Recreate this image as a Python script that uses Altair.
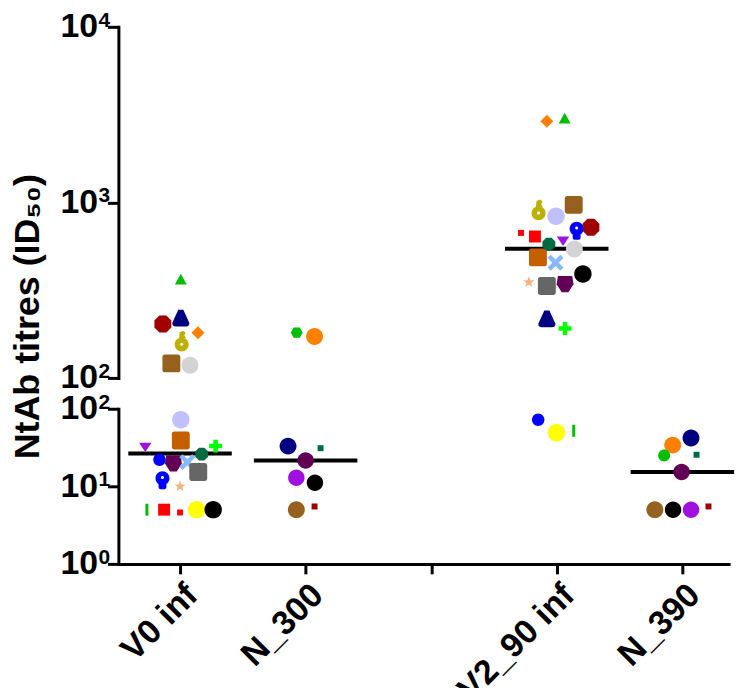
import altair as alt
import pandas as pd

FONT = "Liberation Sans"

# ---------------- categories / axes ----------------
categories = ["V0 inf", "N_300", "V2_90 inf", "N_390"]
category_slots = [0, 1, 3, 4]
x_tick_values = [0, 1, 2, 3, 4]
x_tick_labels = ["V0 inf", "N_300", "", "V2_90 inf", "N_390"]

upper_ticks = [100, 1000, 10000]
upper_exps = ["2", "3", "4"]
lower_ticks = [1, 10, 100]
lower_exps = ["0", "1", "2"]
tick_base = "10"

# ---------------- data ----------------
v_subjects = ["s01", "s02", "s03", "s04", "s05", "s06", "s07", "s08", "s09", "s10",
              "s11", "s12", "s13", "s14", "s15", "s16", "s17", "s18", "s19", "s20",
              "s21", "s22", "s23"]
v0_values = [362, 219, 203, 181, 162, 121, 118, 72, 39, 32, 33, 26, 22, 20, 20.5,
             15.3, 12, 10, 5, 5, 4.6, 5, 5]
v0_jitter = [0.006, 0.006, -0.137, 0.143, 0.013, -0.069, 0.079, 0.006, 0.006, -0.277,
             0.283, 0.172, -0.164, -0.053, 0.058, 0.145, -0.140, 0.0, -0.264, -0.127,
             0.0, 0.132, 0.264]
v2_values = [3000, 217, 722, 2900, 906, 968, 542, 834, 486, 603, 191, 578, 72, 344,
             453, 334, 689, 351, 52, 639, 670, 49, 391]
v2_jitter = [0.063, -0.079, 0.272, -0.079, -0.145, 0.135, 0.140, -0.006, -0.150, 0.050,
             0.066, -0.063, -0.148, 0.066, -0.010, -0.079, 0.158, -0.222, 0.135, -0.174,
             -0.285, -0.002, 0.208]

n300_subjects = ["n_green_hex", "n_orange", "n_navy", "n_dkgreen", "n_dkpurple",
                 "n_violet", "n_black", "n_brown", "n_dkred"]
n300_values = [181, 172, 33, 31, 21.5, 12.9, 11.1, 5, 5.5]
n300_jitter = [-0.071, 0.071, -0.140, 0.119, 0.0, -0.074, 0.074, -0.074, 0.071]

n390_subjects = ["n_navy", "n_orange", "n_green", "n_dkgreen", "n_dkpurple",
                 "n_brown", "n_black", "n_violet", "n_dkred"]
n390_values = [42, 34, 25, 25.5, 15.3, 5, 5, 5, 5.5]
n390_jitter = [0.069, -0.077, -0.145, 0.113, -0.006, -0.219, -0.074, 0.069, 0.208]

medians = [26.5, 21.5, 545, 15.3]

# ---------------- marker styles ----------------
shape_paths = {
    "circle": "M1,0A1,1 0 1,1 -1,0A1,1 0 1,1 1,0Z",
    "square": "M-1,-1H1V1H-1Z",
    "rsquare": "M-0.7,-1H0.7Q1,-1,1,-0.7V0.7Q1,1,0.7,1H-0.7Q-1,1,-1,0.7V-0.7Q-1,-1,-0.7,-1Z",
    "octagon": "M-0.41,-1L0.41,-1L1,-0.41L1,0.41L0.41,1L-0.41,1L-1,0.41L-1,-0.41Z",
    "tri_up": "M0,-1L1,0.8L-1,0.8Z",
    "trap": "M-0.3,-1L0.3,-1L1,0.55Q1.05,1,0.6,1L-0.6,1Q-1.05,1,-1,0.55Z",
    "diamond": "M0,-1L1,0L0,1L-1,0Z",
    "tri_down": "M-1,-0.7L1,-0.7L0,0.8Z",
    "plus": "M-0.35,-1H0.35V-0.35H1V0.35H0.35V1H-0.35V0.35H-1V-0.35H-0.35Z",
    "shield": "M-0.85,-0.9L0.85,-0.9L1,0.05L0.4,1L-0.4,1L-1,0.05Z",
    "xcross": "M-1,-0.6L-0.6,-1L0,-0.4L0.6,-1L1,-0.6L0.4,0L1,0.6L0.6,1L0,0.4L-0.6,1L-1,0.6L-0.4,0Z",
    "star": "M0,-1L0.235,-0.324L0.951,-0.309L0.38,0.124L0.588,0.809L0,0.4L-0.588,0.809L-0.38,0.124L-0.951,-0.309L-0.235,-0.324Z",
    "bar": "M-0.25,-1H0.25V1H-0.25Z",
    "hexagon": "M-0.5,-0.87L0.5,-0.87L1,0L0.5,0.87L-0.5,0.87L-1,0Z",
    "knob_up": ("M0.67,0.33A0.67,0.67 0 1,1 -0.67,0.33A0.67,0.67 0 1,1 0.67,0.33Z"
                "M0.15,0.3A0.15,0.15 0 1,0 -0.15,0.3A0.15,0.15 0 1,0 0.15,0.3Z"
                "M-0.25,-0.3L-0.2,-0.85L0.15,-1L0.38,-0.8L0.25,-0.55L0.4,-0.3Z"),
    "knob_down": ("M0.78,-0.22A0.78,0.78 0 1,1 -0.78,-0.22A0.78,0.78 0 1,1 0.78,-0.22Z"
                  "M0.17,-0.3A0.17,0.17 0 1,0 -0.17,-0.3A0.17,0.17 0 1,0 0.17,-0.3Z"
                  "M-0.44,0.3H0.44V0.8Q0.44,1,0.24,1H-0.24Q-0.44,1,-0.44,0.8Z"),
}

# key: (colour, shape, diameter in px)
marker_style = {
    "s01": ("#00BF00", "tri_up", 12),
    "s02": ("#000080", "trap", 17),
    "s03": ("#A00000", "octagon", 17),
    "s04": ("#FF8000", "diamond", 13),
    "s05": ("#BDB000", "knob_up", 21),
    "s06": ("#96601E", "rsquare", 18),
    "s07": ("#D3D3D3", "circle", 17),
    "s08": ("#C0C0FA", "circle", 17.5),
    "s09": ("#C45F00", "rsquare", 18),
    "s10": ("#A010E0", "tri_down", 12.5),
    "s11": ("#00FF00", "plus", 13),
    "s12": ("#006B40", "octagon", 13),
    "s13": ("#0000FF", "circle", 12.5),
    "s14": ("#610055", "shield", 17),
    "s15": ("#88B8F8", "xcross", 16),
    "s16": ("#666666", "rsquare", 18),
    "s17": ("#0000FF", "knob_down", 18),
    "s18": ("#F4B183", "star", 12),
    "s19": ("#00BF00", "bar", 12),
    "s20": ("#FF0000", "square", 12),
    "s21": ("#FF0000", "square", 6),
    "s22": ("#FFFF00", "circle", 17.5),
    "s23": ("#000000", "circle", 17.5),
    "n_green_hex": ("#00BF00", "hexagon", 12),
    "n_green": ("#00BF00", "circle", 12),
    "n_orange": ("#FF8000", "circle", 17),
    "n_navy": ("#000080", "circle", 17),
    "n_dkgreen": ("#006B40", "square", 6),
    "n_dkpurple": ("#610055", "circle", 16.5),
    "n_violet": ("#A010E0", "circle", 16.5),
    "n_black": ("#000000", "circle", 16.5),
    "n_brown": ("#96601E", "circle", 17),
    "n_dkred": ("#A00000", "square", 6),
}

# ---------------- build tables ----------------
rows = []
for cat, slot, subs, vals, jit in [
    ("V0 inf", 0, v_subjects, v0_values, v0_jitter),
    ("N_300", 1, n300_subjects, n300_values, n300_jitter),
    ("V2_90 inf", 3, v_subjects, v2_values, v2_jitter),
    ("N_390", 4, n390_subjects, n390_values, n390_jitter),
]:
    for s, v, j in zip(subs, vals, jit):
        col, shp, d = marker_style[s]
        rows.append({"group": cat, "marker": s, "value": v, "xpos": slot + j,
                     "color": col, "shape": shape_paths[shp], "size": d * d})
df = pd.DataFrame(rows)

med_df = pd.DataFrame({"group": categories, "slot": category_slots, "median": medians})

x_label_expr = "[" + ",".join("'" + l + "'" for l in x_tick_labels) + "][round(datum.value)]"

xscale = alt.Scale(domain=[-0.491, 4.38], nice=False, zero=False)

axis_common = dict(domainWidth=3, domainColor="black", tickWidth=3, tickColor="black",
                   tickSize=11, labelFont=FONT, labelFontWeight="bold", labelFontSize=34,
                   labelColor="black", labelPadding=10, grid=False, domainCap="square",
                   labelOverlap=False, labelExpr="'" + tick_base + "'")


def panel(filter_expr, ydomain, ticks, exps, yaxis, xaxis, height):
    yscale = alt.Scale(type="log", domain=ydomain, nice=False)
    rule = alt.Chart(med_df).transform_filter(filter_expr.replace("value", "median")).transform_calculate(
        x1="datum.slot - 0.412", x2="datum.slot + 0.412"
    ).mark_rule(color="black", strokeWidth=4).encode(
        x=alt.X("x1:Q", scale=xscale, axis=xaxis),
        x2="x2:Q",
        y=alt.Y("median:Q", scale=yscale, axis=yaxis),
    )
    pts = alt.Chart(df).transform_filter(filter_expr).mark_point(
        filled=True, opacity=1, strokeWidth=0
    ).encode(
        x=alt.X("xpos:Q", scale=xscale, axis=xaxis),
        y=alt.Y("value:Q", scale=yscale, axis=yaxis),
        color=alt.Color("color:N", scale=None),
        shape=alt.Shape("shape:N", scale=None),
        size=alt.Size("size:Q", scale=None),
    )
    exp_df = pd.DataFrame({"tick": ticks, "exp": exps})
    sup = alt.Chart(exp_df).mark_text(
        font=FONT, fontWeight="bold", fontSize=21, align="left", baseline="top",
        dy=-17, color="black", clip=False
    ).encode(
        x=alt.value(-20),
        y=alt.Y("tick:Q", scale=yscale, axis=yaxis),
        text="exp:N",
    )
    return alt.layer(rule, pts, sup).properties(width=615, height=height)


upper_axis = alt.Axis(values=upper_ticks,
                      title="NtAb titres (ID₅₀)", titleFont=FONT, titleFontSize=36,
                      titleFontWeight="bold", titleColor="black", titleAngle=270,
                      titleX=-108, titleY=291, titleAlign="center", titleBaseline="top",
                      **axis_common)
lower_axis = alt.Axis(values=lower_ticks, title=None, **axis_common)
x_axis = alt.Axis(values=x_tick_values, labelExpr=x_label_expr, labelAngle=315,
                  labelAlign="right", labelBaseline="top", labelFontSize=34,
                  labelFont=FONT, labelFontWeight="bold", labelColor="black",
                  labelPadding=4, tickSize=10, tickWidth=3, tickColor="black",
                  domainWidth=3, domainColor="black", grid=False, title=None,
                  labelOverlap=False)

upper = panel("datum.value >= 100", [100, 10000], upper_ticks, upper_exps, upper_axis, None, 353)
lower = panel("datum.value < 100", [1, 100], lower_ticks, lower_exps, lower_axis, x_axis, 156)

chart = alt.vconcat(upper, lower, spacing=31, bounds="flush").configure_view(
    strokeWidth=0
).properties(padding={"left": 2, "top": 0, "right": 5, "bottom": 5})

chart.save("out.html", embed_options={"renderer": "svg", "actions": False})
